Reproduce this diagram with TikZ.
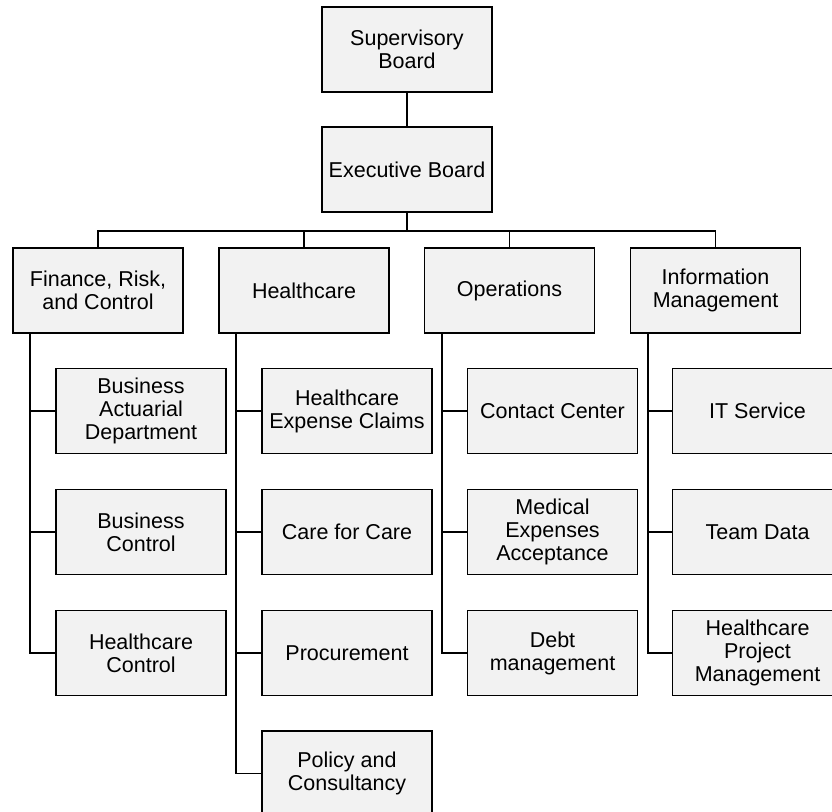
\documentclass[tikz,border=0pt]{standalone}
\usepackage{fontspec}
\setmainfont{Liberation Sans}
\definecolor{boxfill}{HTML}{F2F2F2}
\begin{document}
\begin{tikzpicture}[x=1pt,y=-1pt,
  orgbox/.style={draw=black, fill=boxfill, line width=1.9pt, minimum width=170pt, minimum height=85pt,
    inner sep=1pt, align=center, font=\fontsize{21.5}{23}\selectfont},
  link/.style={draw=black, line width=1.9pt}]
\useasboundingbox (0,0) rectangle (832,811);
% top
\node[orgbox] (sup) at (407,49.5) {Supervisory\\Board};
\node[orgbox] (ex) at (407,169.5) {Executive Board};
% level 1
\node[orgbox] (fin) at (98,290.5) {Finance, Risk,\\and Control};
\node[orgbox] (hc) at (304,290.5) {Healthcare};
\node[orgbox] (op) at (509.5,290.5) {Operations};
\node[orgbox] (im) at (715.5,290.5) {Information\\Management};
% finance children
\node[orgbox] (ba) at (141,411) {Business\\Actuarial\\Department};
\node[orgbox] (bc) at (141,532) {Business\\Control};
\node[orgbox] (hcc) at (141,653) {Healthcare\\Control};
% healthcare children
\node[orgbox] (hec) at (347,411) {Healthcare\\Expense Claims};
\node[orgbox] (cfc) at (347,532) {Care for Care};
\node[orgbox] (proc) at (347,653) {Procurement};
\node[orgbox] (pol) at (347,773.5) {Policy and\\Consultancy};
% operations children
\node[orgbox] (cc) at (552.5,411) {Contact Center};
\node[orgbox] (mea) at (552.5,532) {Medical\\Expenses\\Acceptance};
\node[orgbox] (debt) at (552.5,653) {Debt\\management};
% information children
\node[orgbox] (its) at (757.5,411) {IT Service};
\node[orgbox] (td) at (757.5,532) {Team Data};
\node[orgbox] (hpm) at (757.5,653) {Healthcare\\Project\\Management};
% connectors
\coordinate (bus) at (407,231);
\draw[link] (sup.south) -- (ex.north);
\draw[link] (ex.south) -- (bus);
\draw[link] (fin.north) |- (bus) -| (im.north);
\draw[link] (hc.north) -- (hc.north |- bus);
\draw[link] (op.north) -- (op.north |- bus);
\foreach \p/\c in {fin/ba, fin/bc, fin/hcc, hc/hec, hc/cfc, hc/proc, hc/pol, op/cc, op/mea, op/debt, im/its, im/td, im/hpm}{
  \draw[link] ([xshift=18pt]\p.south west) |- (\c.west);
}
\end{tikzpicture}
\end{document}
